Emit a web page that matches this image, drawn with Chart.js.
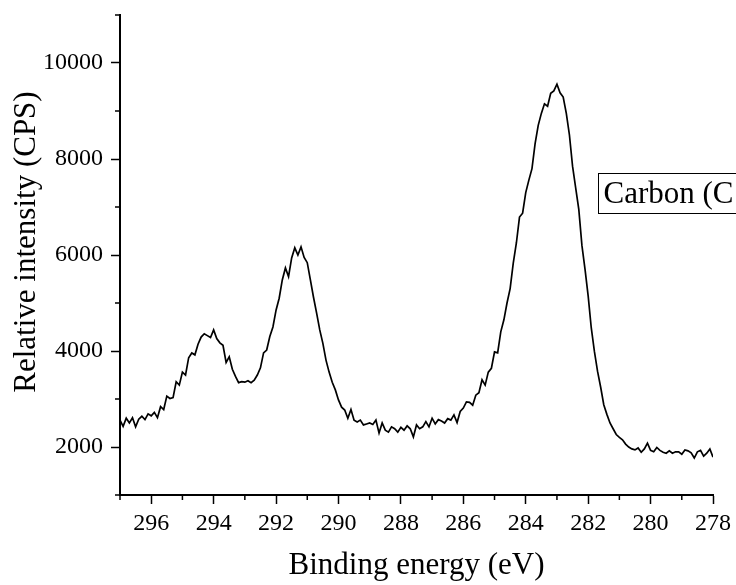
<!DOCTYPE html>
<html>
<head>
<meta charset="utf-8">
<script src="https://cdn.jsdelivr.net/npm/chart.js@4"></script>
<style>
  html, body { margin: 0; padding: 0; background: #fff; }
</style>
</head>
<body>
<canvas id="xps" width="736" height="585"></canvas>
<script>
// binding energy (eV), 297.0 -> 278.0
const energies = [
  297.0, 296.9, 296.8, 296.7, 296.6, 296.5, 296.4, 296.3, 296.2, 296.1,
  296.0, 295.9, 295.8, 295.7, 295.6, 295.5, 295.4, 295.3, 295.2, 295.1,
  295.0, 294.9, 294.8, 294.7, 294.6, 294.5, 294.4, 294.3, 294.2, 294.1,
  294.0, 293.9, 293.8, 293.7, 293.6, 293.5, 293.4, 293.3, 293.2, 293.1,
  293.0, 292.9, 292.8, 292.7, 292.6, 292.5, 292.4, 292.3, 292.2, 292.1,
  292.0, 291.9, 291.8, 291.7, 291.6, 291.5, 291.4, 291.3, 291.2, 291.1,
  291.0, 290.9, 290.8, 290.7, 290.6, 290.5, 290.4, 290.3, 290.2, 290.1,
  290.0, 289.9, 289.8, 289.7, 289.6, 289.5, 289.4, 289.3, 289.2, 289.1,
  289.0, 288.9, 288.8, 288.7, 288.6, 288.5, 288.4, 288.3, 288.2, 288.1,
  288.0, 287.9, 287.8, 287.7, 287.6, 287.5, 287.4, 287.3, 287.2, 287.1,
  287.0, 286.9, 286.8, 286.7, 286.6, 286.5, 286.4, 286.3, 286.2, 286.1,
  286.0, 285.9, 285.8, 285.7, 285.6, 285.5, 285.4, 285.3, 285.2, 285.1,
  285.0, 284.9, 284.8, 284.7, 284.6, 284.5, 284.4, 284.3, 284.2, 284.1,
  284.0, 283.9, 283.8, 283.7, 283.6, 283.5, 283.4, 283.3, 283.2, 283.1,
  283.0, 282.9, 282.8, 282.7, 282.6, 282.5, 282.4, 282.3, 282.2, 282.1,
  282.0, 281.9, 281.8, 281.7, 281.6, 281.5, 281.4, 281.3, 281.2, 281.1,
  281.0, 280.9, 280.8, 280.7, 280.6, 280.5, 280.4, 280.3, 280.2, 280.1,
  280.0, 279.9, 279.8, 279.7, 279.6, 279.5, 279.4, 279.3, 279.2, 279.1,
  279.0, 278.9, 278.8, 278.7, 278.6, 278.5, 278.4, 278.3, 278.2, 278.1,
  278.0
];

// counts per second
const intensities = [
  2560, 2430, 2600, 2500, 2610, 2420, 2580, 2640, 2570, 2690,
  2650, 2720, 2610, 2840, 2780, 3060, 3010, 3030, 3360, 3290,
  3560, 3500, 3860, 3960, 3920, 4140, 4290, 4360, 4320, 4280,
  4440, 4260, 4170, 4120, 3760, 3880, 3620, 3470, 3340, 3360,
  3350, 3380, 3340, 3390, 3500, 3650, 3960, 4020, 4300, 4500,
  4850, 5100, 5480, 5730, 5550, 5940, 6150, 6000, 6170, 5950,
  5840, 5480, 5120, 4790, 4440, 4160, 3810, 3560, 3350, 3190,
  2980, 2830, 2770, 2600, 2780, 2560, 2520, 2560, 2460, 2480,
  2500, 2470, 2560, 2290, 2500, 2350, 2310, 2420, 2380, 2310,
  2410, 2350, 2440, 2380, 2210, 2460, 2380, 2420, 2530, 2420,
  2600, 2480, 2570, 2540, 2500, 2590, 2560, 2670, 2510, 2740,
  2810, 2940, 2930, 2870, 3080, 3130, 3400, 3290, 3560, 3640,
  3980, 3960, 4400, 4650, 5000, 5300, 5830, 6250, 6790, 6870,
  7300, 7560, 7800, 8320, 8700, 8950, 9150, 9100, 9370, 9420,
  9560, 9380, 9290, 8950, 8500, 7850, 7400, 6950, 6200, 5700,
  5150, 4480, 3990, 3580, 3250, 2880, 2680, 2500, 2380, 2260,
  2200, 2150, 2060, 2000, 1960, 1940, 1980, 1890, 1960, 2080,
  1930, 1900, 1990, 1930, 1890, 1870, 1920, 1870, 1900, 1900,
  1850, 1940, 1920, 1880, 1770, 1900, 1930, 1810, 1870, 1960,
  1790
];

const xMajorTicks = [296, 294, 292, 290, 288, 286, 284, 282, 280, 278];
const yMajorTicks = [2000, 4000, 6000, 8000, 10000];
const xTitle = 'Binding energy (eV)';
const yTitle = 'Relative intensity (CPS)';
const boxLabel = 'Carbon (C';

const serif = '"Liberation Serif", "Times New Roman", serif';

// short minor tick marks (Chart.js has no minor ticks of its own)
const minorTicks = {
  id: 'minorTicks',
  afterDraw(chart) {
    const ctx = chart.ctx;
    const xs = chart.scales.x, ys = chart.scales.y;
    ctx.save();
    ctx.strokeStyle = '#000';
    ctx.lineWidth = 1.5;
    ctx.beginPath();
    xs.ticks.forEach(t => {
      if (xMajorTicks.includes(t.value)) return;
      const px = xs.getPixelForValue(t.value);
      ctx.moveTo(px, xs.top);
      ctx.lineTo(px, xs.top + 5);
    });
    ys.ticks.forEach(t => {
      if (yMajorTicks.includes(t.value)) return;
      const py = ys.getPixelForValue(t.value);
      ctx.moveTo(ys.right, py);
      ctx.lineTo(ys.right - 5, py);
    });
    ctx.stroke();
    ctx.restore();
  }
};

// y title sits a bit above the middle of the axis in the original
const yTitlePlugin = {
  id: 'yTitle',
  afterDraw(chart) {
    const ctx = chart.ctx;
    const area = chart.chartArea;
    ctx.save();
    ctx.translate(27, (area.top + area.bottom) / 2 - 13);
    ctx.rotate(-Math.PI / 2);
    ctx.fillStyle = '#000';
    ctx.font = '31px ' + serif;
    ctx.textAlign = 'center';
    ctx.textBaseline = 'middle';
    ctx.fillText(yTitle, 0, 0);
    ctx.restore();
  }
};

// boxed label on the right, cut off by the edge like the original
const labelBox = {
  id: 'labelBox',
  afterDraw(chart) {
    const ctx = chart.ctx;
    const area = chart.chartArea;
    const left = area.right - 114.5;
    const top = area.top + 158.5;
    ctx.save();
    ctx.strokeStyle = '#000';
    ctx.lineWidth = 1;
    ctx.strokeRect(left, top, 200, 40);
    ctx.fillStyle = '#000';
    ctx.font = '31px ' + serif;
    ctx.textBaseline = 'middle';
    ctx.fillText(boxLabel, left + 5, top + 21);
    ctx.restore();
  }
};

const ctx = document.getElementById('xps').getContext('2d');

new Chart(ctx, {
  type: 'line',
  data: {
    datasets: [{
      data: energies.map((e, i) => ({ x: e, y: intensities[i] })),
      borderColor: '#000',
      borderWidth: 1.7,
      pointRadius: 0,
      tension: 0,
      fill: false
    }]
  },
  options: {
    responsive: false,
    animation: false,
    layout: { padding: { top: 15, right: 23, left: 0, bottom: 0 } },
    plugins: {
      legend: { display: false },
      tooltip: { enabled: false }
    },
    scales: {
      x: {
        type: 'linear',
        reverse: true,
        min: 278,
        max: 297,
        afterFit: s => { s.height = 90; s.paddingLeft = 0; s.paddingRight = 0; },
        border: { display: true, color: '#000', width: 2 },
        grid: {
          drawOnChartArea: false,
          drawTicks: true,
          tickLength: 9,
          tickWidth: 1.5,
          tickColor: c => (c.tick && xMajorTicks.includes(c.tick.value)) ? '#000' : 'rgba(0,0,0,0)'
        },
        ticks: {
          stepSize: 1,
          autoSkip: false,
          maxRotation: 0,
          padding: 5,
          color: '#000',
          font: { family: serif, size: 24 },
          callback: v => xMajorTicks.includes(v) ? String(v) : ''
        },
        title: {
          display: true,
          text: xTitle,
          color: '#000',
          font: { family: serif, size: 31 },
          padding: { top: 0, bottom: 1 }
        }
      },
      y: {
        min: 1000,
        max: 11000,
        afterFit: s => { s.width = 120; s.paddingTop = 0; s.paddingBottom = 0; },
        border: { display: true, color: '#000', width: 2 },
        grid: {
          drawOnChartArea: false,
          drawTicks: true,
          tickLength: 9,
          tickWidth: 1.5,
          tickColor: c => (c.tick && yMajorTicks.includes(c.tick.value)) ? '#000' : 'rgba(0,0,0,0)'
        },
        ticks: {
          stepSize: 1000,
          autoSkip: false,
          padding: 8,
          color: '#000',
          font: { family: serif, size: 24 },
          callback: v => yMajorTicks.includes(v) ? String(v) : ''
        },
        title: { display: false }
      }
    }
  },
  plugins: [minorTicks, yTitlePlugin, labelBox]
});
</script>
</body>
</html>
